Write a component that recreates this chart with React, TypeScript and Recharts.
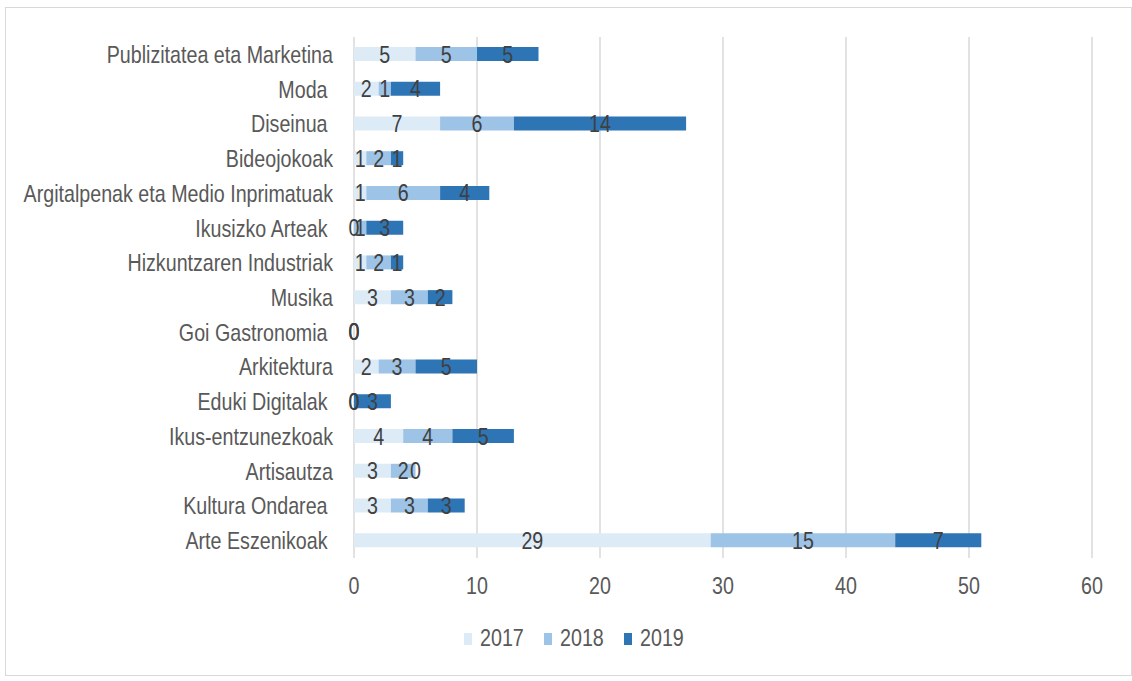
import React from 'react';
import { BarChart, Bar, XAxis, YAxis, CartesianGrid, LabelList, Legend } from 'recharts';

const categories = [
  'Publizitatea eta Marketina',
  'Moda ',
  'Diseinua ',
  'Bideojokoak',
  'Argitalpenak eta Medio Inprimatuak',
  'Ikusizko Arteak ',
  'Hizkuntzaren Industriak',
  'Musika',
  'Goi Gastronomia ',
  'Arkitektura',
  'Eduki Digitalak ',
  'Ikus-entzunezkoak',
  'Artisautza',
  'Kultura Ondarea ',
  'Arte Eszenikoak ',
];
const values2017 = [5, 2, 7, 1, 1, 0, 1, 3, 0, 2, 0, 4, 3, 3, 29];
const values2018 = [5, 1, 6, 2, 6, 1, 2, 3, 0, 3, 0, 4, 2, 3, 15];
const values2019 = [5, 4, 14, 1, 4, 3, 1, 2, 0, 5, 3, 5, 0, 3, 7];
const xTicks = [0, 10, 20, 30, 40, 50, 60];
const seriesNames = ['2017', '2018', '2019'];
const seriesColors = ['#DDEBF7', '#9DC3E6', '#2E75B6'];

const data = categories.map((name, i) => ({
  name,
  y2017: values2017[i],
  y2018: values2018[i],
  y2019: values2019[i],
}));

const FONT = "'Liberation Sans', Arial, sans-serif";
const NARROW = 0.82;

const NarrowText = ({ x, y, anchor, dy, fill, children }: any) => (
  <g transform={`translate(${x} ${y}) scale(${NARROW} 1)`}>
    <text
      x={0}
      y={0}
      dy={dy}
      textAnchor={anchor}
      fill={fill}
      fontSize={24}
      fontFamily={FONT}
      style={{ whiteSpace: 'pre' }}
      xmlSpace="preserve"
    >
      {children}
    </text>
  </g>
);

const YTick = (props: any) => (
  <NarrowText x={props.x} y={props.y} anchor="end" dy="0.355em" fill="#595959">
    {props.payload.value}
  </NarrowText>
);

const XTick = (props: any) => (
  <NarrowText x={props.x} y={props.y} anchor="middle" dy="0.71em" fill="#595959">
    {props.payload.value}
  </NarrowText>
);

const BarLabel = (props: any) => {
  const { x, y, width, height, value } = props;
  if (x == null || y == null) return null;
  return (
    <NarrowText x={Number(x) + Number(width) / 2} y={Number(y) + Number(height) / 2} anchor="middle" dy="0.355em" fill="#404040">
      {String(value)}
    </NarrowText>
  );
};

const LegendContent = () => (
  <div style={{ display: 'flex', alignItems: 'center', height: 30, paddingLeft: 458, fontFamily: FONT, fontSize: 24, color: '#595959' }}>
    {seriesNames.map((n, i) => (
      <div key={n} style={{ display: 'flex', alignItems: 'center', marginRight: i < 2 ? 20 : 0 }}>
        <div style={{ width: 8, height: 12, background: seriesColors[i], marginRight: 8, marginTop: 2 }} />
        <div style={{ width: 44, whiteSpace: 'nowrap' }}>
          <span style={{ display: 'inline-block', transform: `scaleX(${NARROW})`, transformOrigin: 'left center' }}>{n}</span>
        </div>
      </div>
    ))}
  </div>
);

export default function App() {
  return (
    <div style={{ position: 'absolute', left: 5, top: 7, width: 1127, height: 669, border: '1px solid #D9D9D9', boxSizing: 'border-box', background: '#fff' }}>
      <BarChart
        width={1125}
        height={667}
        data={data}
        layout="vertical"
        margin={{ top: 29, right: 39, bottom: 22, left: 0 }}
        barSize={14}
      >
        <CartesianGrid horizontal={false} vertical={true} stroke="#D9D9D9" strokeWidth={1.5} />
        <XAxis
          type="number"
          domain={[0, 60]}
          ticks={xTicks}
          axisLine={false}
          tickLine={false}
          tickSize={0}
          tickMargin={19}
          height={65}
          tick={<XTick />}
        />
        <YAxis
          type="category"
          dataKey="name"
          width={348}
          axisLine={false}
          tickLine={false}
          tickSize={0}
          tickMargin={21}
          interval={0}
          tick={<YTick />}
        />
        <Legend verticalAlign="bottom" height={30} wrapperStyle={{ left: 0, width: 1125 }} content={<LegendContent />} />
        <Bar dataKey="y2017" name="2017" stackId="a" fill={seriesColors[0]} minPointSize={0.001} isAnimationActive={false}>
          <LabelList dataKey="y2017" content={BarLabel} />
        </Bar>
        <Bar dataKey="y2018" name="2018" stackId="a" fill={seriesColors[1]} minPointSize={0.001} isAnimationActive={false}>
          <LabelList dataKey="y2018" content={BarLabel} />
        </Bar>
        <Bar dataKey="y2019" name="2019" stackId="a" fill={seriesColors[2]} minPointSize={0.001} isAnimationActive={false}>
          <LabelList dataKey="y2019" content={BarLabel} />
        </Bar>
      </BarChart>
    </div>
  );
}
